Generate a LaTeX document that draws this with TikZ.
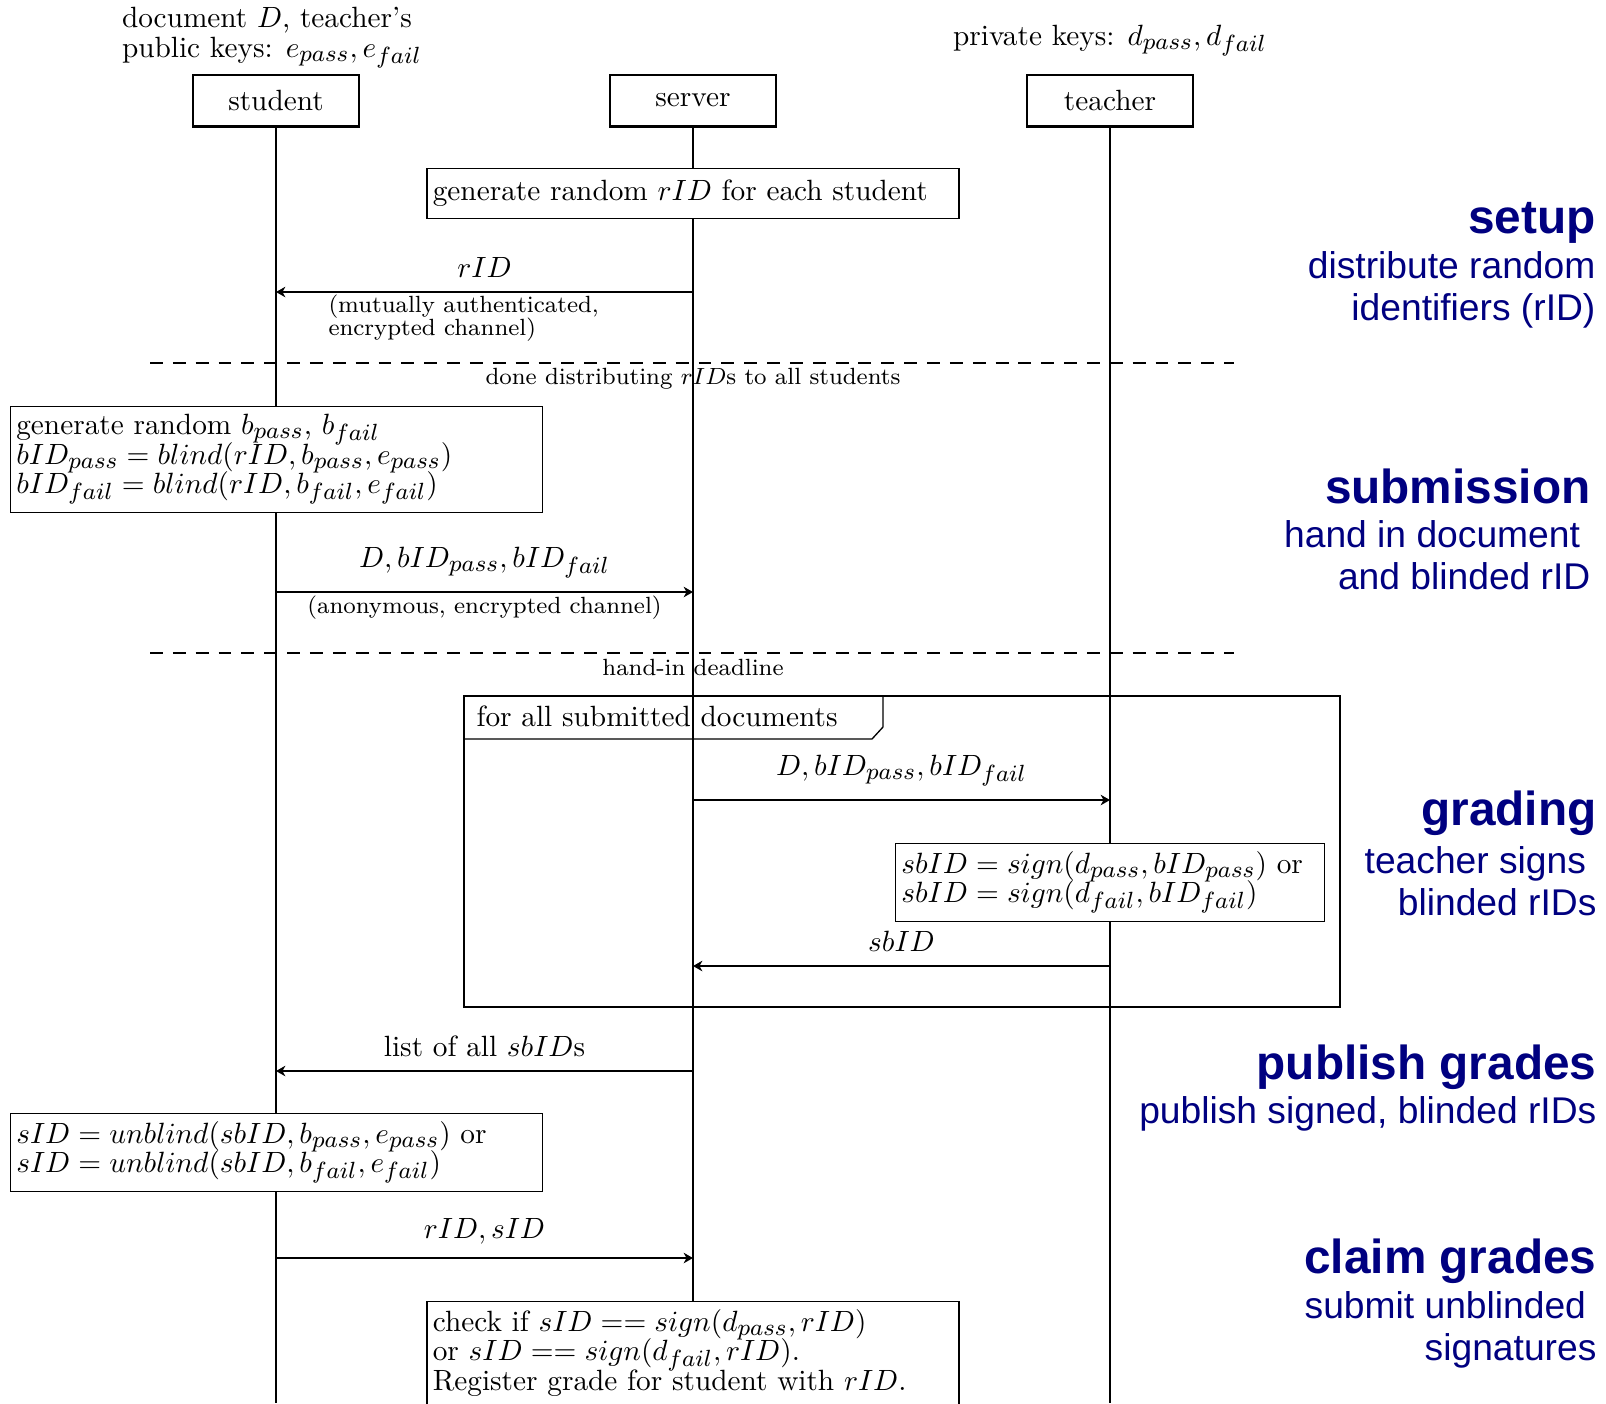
\documentclass[tikz,border=0pt]{standalone}
\usepackage{fontspec}
\newfontfamily\phasefont{Liberation Sans}
\usetikzlibrary{arrows.meta,positioning}
\DeclareMathSizes{10}{10}{8}{6}
\definecolor{PhaseBlue}{RGB}{0,0,128}
\newcommand{\tightsize}{\fontsize{10}{10.1}\selectfont\lineskiplimit=-10pt}
\newcommand{\notesize}{\fontsize{8}{8}\selectfont\lineskiplimit=-10pt}
\tikzset{>={Stealth[length=3.2pt,width=3.6pt,inset=1pt]},
 actor/.style={draw,fill=white,minimum width=56.7pt,minimum height=17.4pt,
 inner sep=0pt,font=\tightsize},
 actbox/.style={draw,fill=white,align=left,inner xsep=2pt,inner ysep=2.6pt,
 font=\tightsize},
 wideact/.style={actbox,text width=177.6pt},
 lifeline/.style={draw,line width=0.4pt},
 msg/.style={->,line width=0.45pt}}

\begin{document}
\begin{tikzpicture}[x=0.3413pt,y=-0.3413pt,
 msgtext/.style={above=1.3pt,font=\tightsize},
 msgnote/.style={font=\notesize,align=left,inner sep=1pt},
 divider/.style={dash pattern=on 4.4pt off 3.4pt,line width=0.45pt},
 loopframe/.style={draw,line width=0.45pt},
 phase/.style={anchor=base east,inner sep=0pt,text=PhaseBlue,
 font=\phasefont\fontsize{16.3}{18}\selectfont\bfseries},
 phasesub/.style={anchor=base east,inner sep=0pt,align=right,text=PhaseBlue,
 font=\phasefont\fontsize{12.7}{14.3}\selectfont}]
\useasboundingbox (0,0) rectangle (1606,1403);
\clip (0,0) rectangle (1606,1403);
% Actors and their lifelines
\node[actor] (student) at (276,100.5) {student};
\node[actor] (server) at (693,100.5) {server};
\node[actor] (teacher) at (1110,100.5) {teacher};
\node[align=left,inner sep=0pt,above=2pt of student,xshift=-1.4pt,
 font=\tightsize] (pubkeys)
 {document $D$, teacher's\\public keys: $e_{pass},e_{fail}$};
\node[above=2.8pt of teacher,font=\tightsize] (privkeys)
 {private keys: $d_{pass},d_{fail}$};
\coordinate (bottom) at (0,1403);
\foreach \a in {student,server,teacher}
 {\draw[lifeline] (\a.south)--(\a |- bottom);
 \draw[line width=1.2pt] (\a.south west)--(\a.south east);}
% Message rows
\coordinate (rowrid) at (0,292);
\coordinate (rowsubmit) at (0,592);
\coordinate (rowgrade) at (0,800);
\coordinate (rowsign) at (0,966);
\coordinate (rowpublish) at (0,1071);
\coordinate (rowclaim) at (0,1258);
% Setup
\node[wideact,anchor=north,minimum height=17.1pt] (genrid) at (693,168)
 {generate random $rID$ for each student};
\draw[msg] (server |- rowrid) -- node[msgtext]{$rID$} (student |- rowrid);
\node[msgnote,anchor=north west] (ridnote) at (325,291)
 {(mutually authenticated,\\encrypted channel)};
\draw[divider] (150,363) -- (1234,363);
\node[font=\notesize,anchor=base] (donelabel) at (693,384)
 {done distributing $rID$s to all students};
% Submission
\node[wideact,anchor=north] (blindbox) at (276.5,406)
 {generate random $b_{pass}$, $b_{fail}$\\
 $bID_{pass}=blind(rID,b_{pass},e_{pass})$\\
 $bID_{fail}=blind(rID,b_{fail},e_{fail})$};
\draw[msg] (student |- rowsubmit) -- node[msgtext]{$D,bID_{pass},bID_{fail}$}
 node[msgnote,below]{(anonymous, encrypted channel)} (server |- rowsubmit);
\draw[divider] (150,653) -- (1234,653);
\node[font=\notesize,anchor=base] (deadline) at (693,675) {hand-in deadline};
% Grading loop
\draw[loopframe] (464,696) rectangle (1340,1007);
\draw[loopframe] (464,739) -- (872,739) -- (883,727) -- (883,696);
\node[font=\tightsize,inner sep=0pt,anchor=base west] (looplabel) at (476,726)
 {for all submitted documents};
\draw[msg] (server |- rowgrade) -- node[msgtext]{$D,bID_{pass},bID_{fail}$}
 (teacher |- rowgrade);
\node[actbox,text width=142.4pt,anchor=north] (signbox) at (1110,843)
 {$sbID=sign(d_{pass},bID_{pass})$ or\\$sbID=sign(d_{fail},bID_{fail})$};
\draw[msg] (teacher |- rowsign) -- node[msgtext]{$sbID$} (server |- rowsign);
% Publishing and claiming
\draw[msg] (server |- rowpublish) -- node[msgtext]{list of all $sbID$s}
 (student |- rowpublish);
\node[wideact,anchor=north] (unblindbox) at (276.5,1113)
 {$sID=unblind(sbID,b_{pass},e_{pass})$ or\\
 $sID=unblind(sbID,b_{fail},e_{fail})$};
\draw[msg] (student |- rowclaim) -- node[msgtext]{$rID,sID$} (server |- rowclaim);
\node[wideact,anchor=north] (checkbox) at (693,1301)
 {check if $sID==sign(d_{pass},rID)$\\or $sID==sign(d_{fail},rID)$.\\
 Register grade for student with $rID$.\rule[-6pt]{0pt}{6pt}};
% Phase captions on the right (base = last line)
\node[phase] (setupT) at (1596,233) {setup};
\node[phasesub] (setupS) at (1596,320.6) {distribute random\\identifiers (rID)};
\node[phase] (submitT) at (1591,503) {submission};
\node[phasesub] (submitS) at (1591,589)
 {hand in document\kern0.28em\\and blinded rID};
\node[phase] (gradeT) at (1597,825.5) {grading};
\node[phasesub] (gradeS) at (1597,915)
 {teacher signs\kern0.28em\\blinded rIDs};
\node[phase] (publishT) at (1597,1079) {publish grades};
\node[phasesub] (publishS) at (1597,1123.5) {publish signed, blinded rIDs};
\node[phase] (claimT) at (1597,1273) {claim grades};
\node[phasesub] (claimS) at (1597,1360)
 {submit unblinded\kern0.28em\\signatures};
\end{tikzpicture}
\end{document}
